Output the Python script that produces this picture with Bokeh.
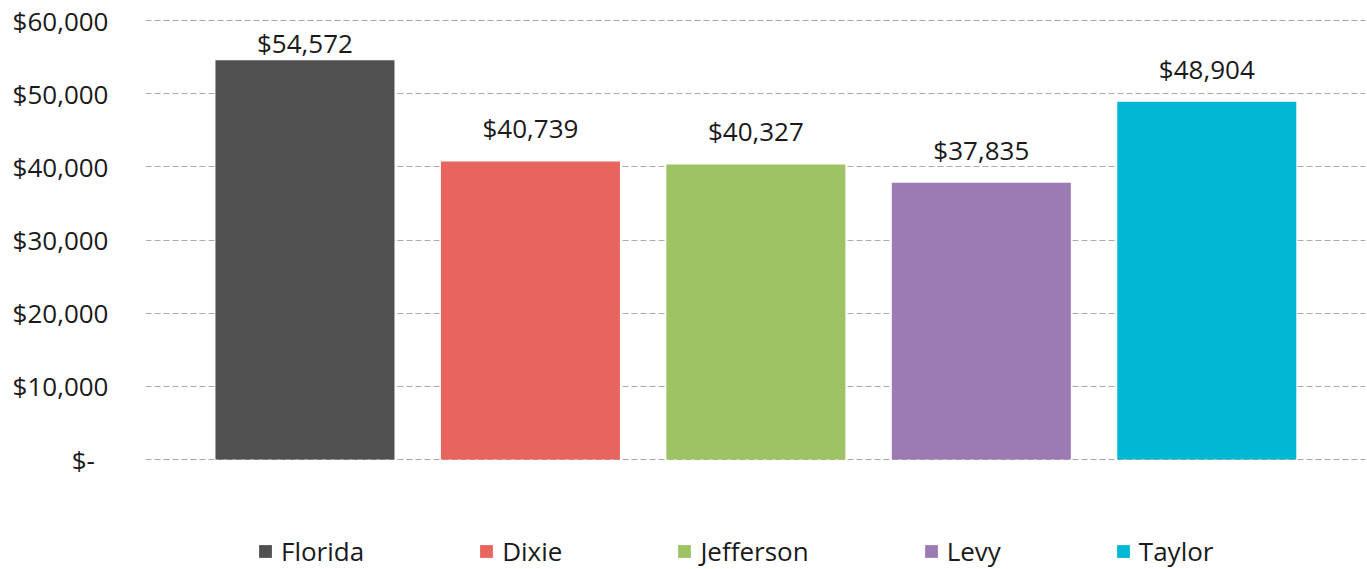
from bokeh.plotting import figure
from bokeh.models import ColumnDataSource, FixedTicker, Range1d, Legend, LegendItem
from bokeh.core.properties import value
from bokeh.embed import file_html
from bokeh.resources import INLINE

# ---- data ----
counties = ["Florida", "Dixie", "Jefferson", "Levy", "Taylor"]
income = [54572, 40739, 40327, 37835, 48904]
colors = ["#505050", "#E8645F", "#9EC364", "#9C7BB5", "#00B8D3"]
y_ticks = [0, 10000, 20000, 30000, 40000, 50000, 60000]
y_tick_labels = ["$-\u00a0\u00a0", "$10,000", "$20,000", "$30,000", "$40,000", "$50,000", "$60,000"]

FONT = "Open Sans"
Y_MAX = 60000
W, H = 1366, 569
B_LEFT, B_RIGHT, B_TOP = 145, 1, 18
PLOT_H = 439                       # pixels between 0 and Y_MAX
px_per_unit = PLOT_H / Y_MAX
y_end = Y_MAX + 2 / px_per_unit    # keeps top gridline visible
frame_h = H - B_TOP
y_start = y_end - frame_h / px_per_unit   # extra room below 0 for the legend

# label offsets: ~23px above bar, kept inside plot area (like Excel)
offsets = []
for v in income:
    top_px = (y_end - v) * px_per_unit        # from frame top
    base = max(top_px - 23, 34)
    offsets.append(base - top_px - 10)

src = ColumnDataSource(dict(
    x=list(range(len(counties))),
    county=counties,
    income=income,
    color=colors,
    label=[f"${v:,}" for v in income],
    yoff=offsets,
))

p = figure(width=W, height=H, output_backend="svg", toolbar_location=None,
           x_range=Range1d(-0.7073, 4.704), y_range=Range1d(y_start, y_end),
           min_border_left=B_LEFT, min_border_right=B_RIGHT,
           min_border_top=B_TOP, min_border_bottom=0,
           background_fill_color="white", border_fill_color="white")
p.outline_line_color = None

p.xaxis.visible = False
p.xgrid.visible = False

yax = p.yaxis[0]
yax.ticker = FixedTicker(ticks=y_ticks)
yax.major_label_overrides = {t: l for t, l in zip(y_ticks, y_tick_labels)}
yax.axis_line_color = None
yax.major_tick_line_color = None
yax.minor_tick_line_color = None
yax.major_label_standoff = 31
yax.major_label_text_font = FONT
yax.major_label_text_font_size = "26px"
yax.major_label_text_color = "#1a1a1a"

p.ygrid.ticker = FixedTicker(ticks=y_ticks)
p.ygrid.grid_line_color = "#ababab"
p.ygrid.grid_line_dash = "6 3"
p.ygrid.grid_line_width = 1

r = p.vbar(x="x", top="income", bottom=0, width=0.794, source=src,
           fill_color="color", line_color=None)

p.text(x="x", y="income", text="label", source=src, y_offset="yoff",
       text_align="center", text_baseline="alphabetic",
       text_font=value(FONT), text_font_size="26px", text_color="#1a1a1a")

items = [LegendItem(label=c, renderers=[r], index=i) for i, c in enumerate(counties)]
legend = Legend(items=items, orientation="horizontal", location=(112, 0),
                glyph_width=16, glyph_height=16, label_standoff=8, spacing=114,
                padding=0, margin=0, border_line_color=None, background_fill_alpha=0,
                label_text_font=FONT, label_text_font_size="26px",
                label_text_color="#1a1a1a", label_height=20)
p.add_layout(legend, "center")

open("out.html", "w").write(file_html(p, INLINE))
